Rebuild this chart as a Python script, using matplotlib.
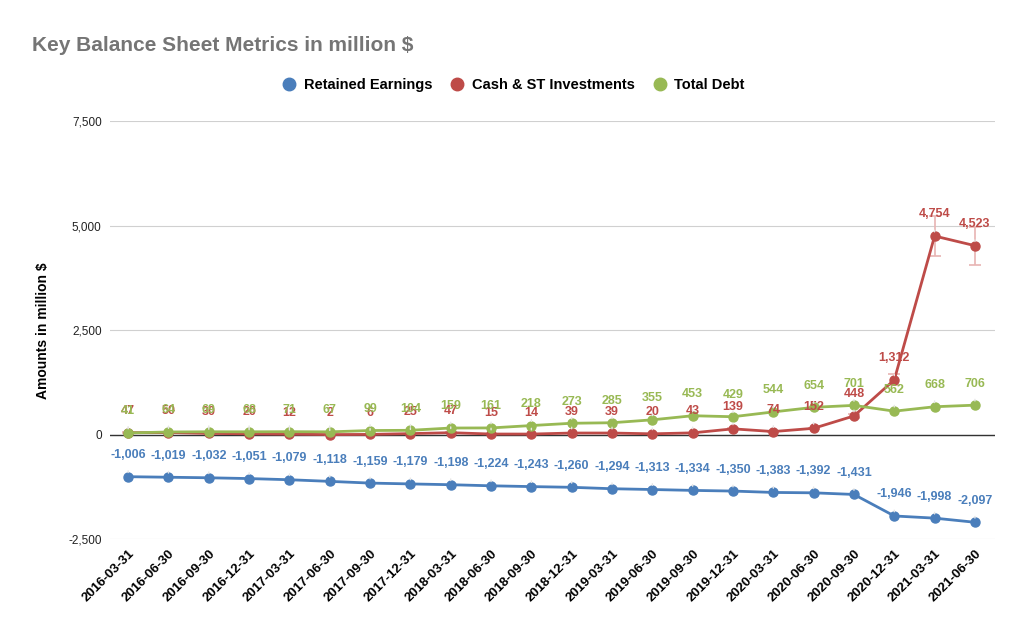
import matplotlib
matplotlib.use("Agg")
import matplotlib.pyplot as plt
import numpy as np

plt.rcParams['font.family'] = ['Liberation Sans', 'DejaVu Sans']

dates = ["2016-03-31", "2016-06-30", "2016-09-30", "2016-12-31", "2017-03-31", "2017-06-30",
         "2017-09-30", "2017-12-31", "2018-03-31", "2018-06-30", "2018-09-30", "2018-12-31",
         "2019-03-31", "2019-06-30", "2019-09-30", "2019-12-31", "2020-03-31", "2020-06-30",
         "2020-09-30", "2020-12-31", "2021-03-31", "2021-06-30"]
retained = [-1006, -1019, -1032, -1051, -1079, -1118, -1159, -1179, -1198, -1224, -1243, -1260,
            -1294, -1313, -1334, -1350, -1383, -1392, -1431, -1946, -1998, -2097]
cash = [47, 50, 30, 20, 12, 2, 6, 25, 47, 15, 14, 39, 39, 20, 43, 139, 74, 152, 448, 1312, 4754, 4523]
debt = [41, 64, 69, 68, 71, 67, 99, 104, 159, 161, 218, 273, 285, 355, 453, 429, 544, 654, 701, 562, 668, 706]

c_blue = "#4a7ebb"
c_red = "#be4b48"
c_green = "#98b954"

fig = plt.figure(figsize=(10.28, 6.35), dpi=100)
ax = fig.add_axes([0.107, 0.151, 0.861, 0.658])
x = np.arange(len(dates))

series = [("Retained Earnings", retained, c_blue),
          ("Cash & ST Investments", cash, c_red),
          ("Total Debt", debt, c_green)]

cash_err = [abs(v) * 0.1 for v in cash]
ax.errorbar(x, cash, yerr=cash_err, fmt='none', ecolor="#e8b4b3", elinewidth=1.2,
            capsize=4.3, capthick=1.2, zorder=2)

for name, vals, col in series:
    ax.plot(x, vals, color=col, lw=2, marker='o', ms=6.5, label=name, zorder=3)
    for xi, v in zip(x, vals):
        ax.annotate(f"{v:,}", (xi, v), xytext=(0, 15.5), textcoords='offset points',
                    ha='center', va='center', color=col, fontsize=9, fontweight='bold',
                    arrowprops=dict(arrowstyle='-', color='#e6e6e6', lw=1, shrinkA=5, shrinkB=3),
                    zorder=4)

ax.set_ylim(-2500, 7500)
ax.set_xlim(-0.45, 21.5)
ax.set_yticks([-2500, 0, 2500, 5000, 7500])
ax.set_yticklabels([f"{t:,}" for t in [-2500, 0, 2500, 5000, 7500]], fontsize=8.5, color="#222222")
ax.set_xticks(x)
ax.set_xticklabels(dates, rotation=45, ha='right', rotation_mode='anchor', fontsize=9.5,
                   fontweight='bold')
ax.tick_params(axis='both', length=0, pad=6)
ax.grid(axis='y', color='#d0d0d0', lw=0.8)
ax.axhline(0, color='#333333', lw=1, zorder=1)
for s in ax.spines.values():
    s.set_visible(False)
ax.set_axisbelow(True)

ax.set_ylabel("Amounts in million $", fontsize=10, fontweight='bold', labelpad=13)

fig.text(0.031, 0.928, "Key Balance Sheet Metrics in million $", fontsize=15,
         fontweight='bold', color='#757575', va='center')

leg = fig.legend(*ax.get_legend_handles_labels(), loc='center', bbox_to_anchor=(0.5, 0.866),
                 ncol=3, frameon=False, handlelength=0.8, handletextpad=0.6,
                 columnspacing=1.3, prop={'weight': 'bold', 'size': 10.5})
for h in leg.legend_handles:
    h.set_linestyle('none')
    h.set_markersize(9)

fig.savefig("out.png", dpi=100)
